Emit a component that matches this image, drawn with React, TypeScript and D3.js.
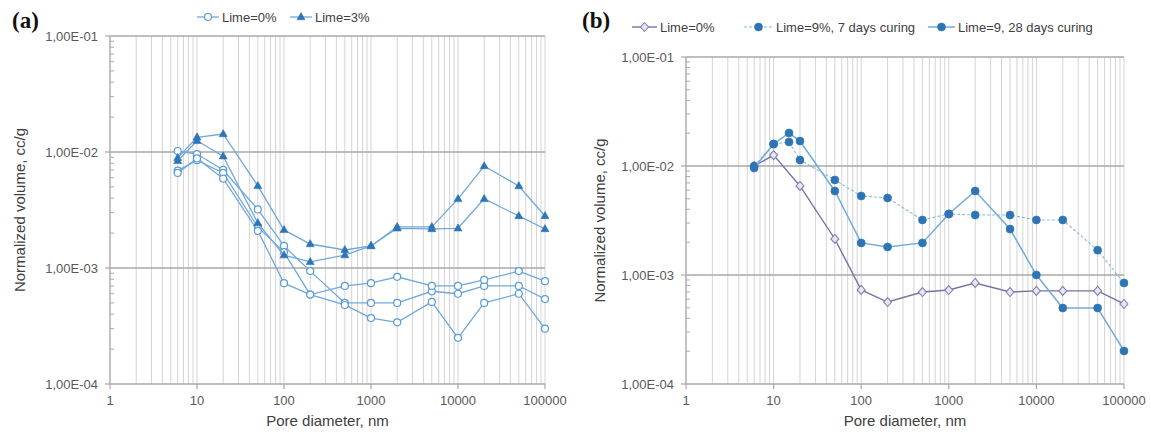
import React from 'react';
import * as d3 from 'd3';

// ---------- data ----------
const poreA = [6, 10, 20, 50, 100, 200, 500, 1000, 2000, 5000, 10000, 20000, 50000, 100000];
const lime0A1 = [0.0102, 0.0096, 0.0070, 0.0032, 0.00155, 0.00094, 0.0005, 0.0005, 0.0005, 0.00063, 0.0006, 0.0007, 0.0007, 0.00054];
const lime0A2 = [0.0069, 0.0085, 0.0066, 0.00226, 0.00137, 0.00059, 0.00048, 0.00037, 0.00034, 0.00051, 0.00025, 0.0005, 0.0006, 0.0003];
const lime0A3 = [0.0066, 0.0088, 0.0059, 0.00209, 0.00074, 0.00059, 0.0007, 0.00074, 0.00084, 0.0007, 0.0007, 0.00079, 0.00094, 0.00077];
const lime3A1 = [0.0089, 0.0134, 0.0143, 0.0051, 0.00213, 0.00161, 0.00143, 0.00155, 0.00226, 0.00226, 0.00394, 0.00757, 0.00509, 0.00281];
const lime3A2 = [0.0084, 0.0125, 0.0092, 0.00244, 0.00129, 0.00113, 0.00129, 0.00155, 0.0022, 0.00217, 0.0022, 0.00394, 0.00281, 0.00217];

const poreB0 = [6, 10, 20, 50, 100, 200, 500, 1000, 2000, 5000, 10000, 20000, 50000, 100000];
const lime0B = [0.0100, 0.0126, 0.00656, 0.00214, 0.00073, 0.000565, 0.000698, 0.000728, 0.000845, 0.000698, 0.000715, 0.000715, 0.000715, 0.000542];
const poreB9 = [6, 10, 15, 20, 50, 100, 200, 500, 1000, 2000, 5000, 10000, 20000, 50000, 100000];
const lime9d7 = [0.0100, 0.0159, 0.0166, 0.01135, 0.00745, 0.00531, 0.00509, 0.0032, 0.00363, 0.00355, 0.00355, 0.0032, 0.0032, 0.00169, 0.000845];
const lime9d28 = [0.0096, 0.0159, 0.0201, 0.01694, 0.0059, 0.00197, 0.00181, 0.00197, 0.00363, 0.0059, 0.00264, 0.001, 0.000498, 0.000498, 0.000201];

const yTickValues = [1e-4, 1e-3, 1e-2, 1e-1];
const yTickLabels = ['1,00E-04', '1,00E-03', '1,00E-02', '1,00E-01'];
const xTickValues = [1, 10, 100, 1000, 10000, 100000];
const xTickLabels = ['1', '10', '100', '1000', '10000', '100000'];

const legendA = ['Lime=0%', 'Lime=3%'];
const legendB = ['Lime=0%', 'Lime=9%, 7 days curing', 'Lime=9, 28 days curing'];

const FONT = "'Liberation Sans', Arial, sans-serif";

type Marker = 'circle' | 'triangle' | 'diamond' | 'dot';
interface Series {
  xs: number[];
  ys: number[];
  line: string;
  lineWidth: number;
  dash?: string;
  marker: Marker;
  mFill: string;
  mStroke: string;
}

function MarkerShape({ type, x, y, fill, stroke }: { type: Marker; x: number; y: number; fill: string; stroke: string }) {
  if (type === 'circle') return <circle cx={x} cy={y} r={3.5} fill={fill} stroke={stroke} strokeWidth={1.2} />;
  if (type === 'dot') return <circle cx={x} cy={y} r={4} fill={fill} stroke={stroke} strokeWidth={0.6} />;
  if (type === 'triangle')
    return <path d={`M${x},${y - 4.4}L${x + 4},${y + 2.7}L${x - 4},${y + 2.7}Z`} fill={fill} stroke={stroke} strokeWidth={0.6} />;
  return <path d={`M${x},${y - 4.5}L${x + 4},${y}L${x},${y + 4.5}L${x - 4},${y}Z`} fill={fill} stroke={stroke} strokeWidth={1.1} />;
}

interface PanelProps {
  x0: number; x1: number; yTop: number; yBot: number;
  series: Series[];
  yTitleX: number;
}

function Panel({ x0, x1, yTop, yBot, series, yTitleX }: PanelProps) {
  const x = d3.scaleLog().domain([1, 100000]).range([x0, x1]);
  const y = d3.scaleLog().domain([1e-4, 1e-1]).range([yBot, yTop]);
  const xMinor = x.ticks();
  const yMinor = y.ticks().filter((v) => !yTickValues.some((t) => Math.abs(t - v) / t < 1e-6));
  const line = d3.line<[number, number]>().x((d) => x(d[0])).y((d) => y(d[1]));
  return (
    <g>
      {xMinor.map((v, i) => (
        <line key={'vx' + i} x1={x(v)} x2={x(v)} y1={yTop} y2={yBot} stroke="#d4d4d4" strokeWidth={1} />
      ))}
      {yTickValues.map((v, i) => (
        <line key={'hy' + i} x1={x0} x2={x1} y1={y(v)} y2={y(v)} stroke="#a8a8a8" strokeWidth={1.4} />
      ))}
      <line x1={x0} x2={x0} y1={yTop} y2={yBot} stroke="#a8a8a8" strokeWidth={1.2} />
      {yTickValues.map((v, i) => (
        <line key={'my' + i} x1={x0 - 5} x2={x0} y1={y(v)} y2={y(v)} stroke="#a8a8a8" strokeWidth={1.2} />
      ))}
      {yMinor.map((v, i) => (
        <line key={'ny' + i} x1={x0} x2={x0 + 4} y1={y(v)} y2={y(v)} stroke="#a8a8a8" strokeWidth={1} />
      ))}
      {xTickValues.map((v, i) => (
        <line key={'mx' + i} x1={x(v)} x2={x(v)} y1={yBot} y2={yBot + 5} stroke="#a8a8a8" strokeWidth={1.2} />
      ))}
      {yTickLabels.map((t, i) => (
        <text key={'yl' + i} x={x0 - 12} y={y(yTickValues[i]) + 4.5} textAnchor="end" fontFamily={FONT} fontSize={13} fill="#595959">{t}</text>
      ))}
      {xTickLabels.map((t, i) => (
        <text key={'xl' + i} x={x(xTickValues[i])} y={405} textAnchor="middle" fontFamily={FONT} fontSize={13} fill="#595959">{t}</text>
      ))}
      <text x={(x0 + x1) / 2} y={426} textAnchor="middle" fontFamily={FONT} fontSize={15} fill="#404040">Pore diameter, nm</text>
      <text transform={`translate(${yTitleX},${(yTop + yBot) / 2}) rotate(-90)`} textAnchor="middle" dy={5} fontFamily={FONT} fontSize={15} fill="#404040">Normalized volume, cc/g</text>
      {series.map((s, si) => {
        const pts: [number, number][] = s.xs.map((xv, i) => [xv, s.ys[i]]);
        return (
          <g key={'s' + si}>
            <path d={line(pts) || ''} fill="none" stroke={s.line} strokeWidth={s.lineWidth} strokeDasharray={s.dash} />
            {pts.map((p, i) => (
              <MarkerShape key={i} type={s.marker} x={x(p[0])} y={y(p[1])} fill={s.mFill} stroke={s.mStroke} />
            ))}
          </g>
        );
      })}
    </g>
  );
}

function LegendItem({ x, y, width, s, label }: { x: number; y: number; width: number; s: Series; label: string }) {
  return (
    <g>
      <line x1={x} x2={x + width} y1={y} y2={y} stroke={s.line} strokeWidth={s.lineWidth} strokeDasharray={s.dash} />
      <MarkerShape type={s.marker} x={x + width / 2} y={y} fill={s.mFill} stroke={s.mStroke} />
      <text x={x + width + 3} y={y + 4.5} fontFamily={FONT} fontSize={13} fill="#404040">{label}</text>
    </g>
  );
}

export default function App() {
  const blueLine = '#6fa8dc';
  const circ = (ys: number[]): Series => ({ xs: poreA, ys, line: blueLine, lineWidth: 1.3, marker: 'circle', mFill: '#ffffff', mStroke: '#5b9bd5' });
  const tri = (ys: number[]): Series => ({ xs: poreA, ys, line: blueLine, lineWidth: 1.3, marker: 'triangle', mFill: '#2e75b6', mStroke: '#2e75b6' });
  const seriesA: Series[] = [circ(lime0A1), circ(lime0A2), circ(lime0A3), tri(lime3A1), tri(lime3A2)];
  const sB0: Series = { xs: poreB0, ys: lime0B, line: '#7474a6', lineWidth: 1.4, marker: 'diamond', mFill: '#e6e6f2', mStroke: '#8080b0' };
  const sB7: Series = { xs: poreB9, ys: lime9d7, line: '#86b8e4', lineWidth: 1.1, dash: '3,2', marker: 'dot', mFill: '#2e75b6', mStroke: '#2e75b6' };
  const sB28: Series = { xs: poreB9, ys: lime9d28, line: '#72aade', lineWidth: 1.5, marker: 'dot', mFill: '#2e75b6', mStroke: '#2e75b6' };
  return (
    <svg width={1151} height={437} style={{ position: 'absolute', left: 0, top: 0, background: '#ffffff' }}>
      <rect x={0} y={0} width={1151} height={437} fill="#ffffff" />
      <text x={12} y={28} fontFamily="'Liberation Serif', 'Times New Roman', serif" fontWeight="bold" fontSize={23} fill="#111">(a)</text>
      <text x={582} y={28} fontFamily="'Liberation Serif', 'Times New Roman', serif" fontWeight="bold" fontSize={23} fill="#111">(b)</text>
      <Panel x0={110} x1={545} yTop={36} yBot={384} series={seriesA} yTitleX={20} />
      <Panel x0={686} x1={1124} yTop={57} yBot={384} series={[sB0, sB7, sB28]} yTitleX={600} />
      <LegendItem x={197} y={17} width={22} s={seriesA[0]} label={legendA[0]} />
      <LegendItem x={290} y={17} width={22} s={seriesA[3]} label={legendA[1]} />
      <LegendItem x={632} y={27} width={25} s={sB0} label={legendB[0]} />
      <LegendItem x={744} y={27} width={29} s={sB7} label={legendB[1]} />
      <LegendItem x={928} y={27} width={27} s={sB28} label={legendB[2]} />
    </svg>
  );
}
